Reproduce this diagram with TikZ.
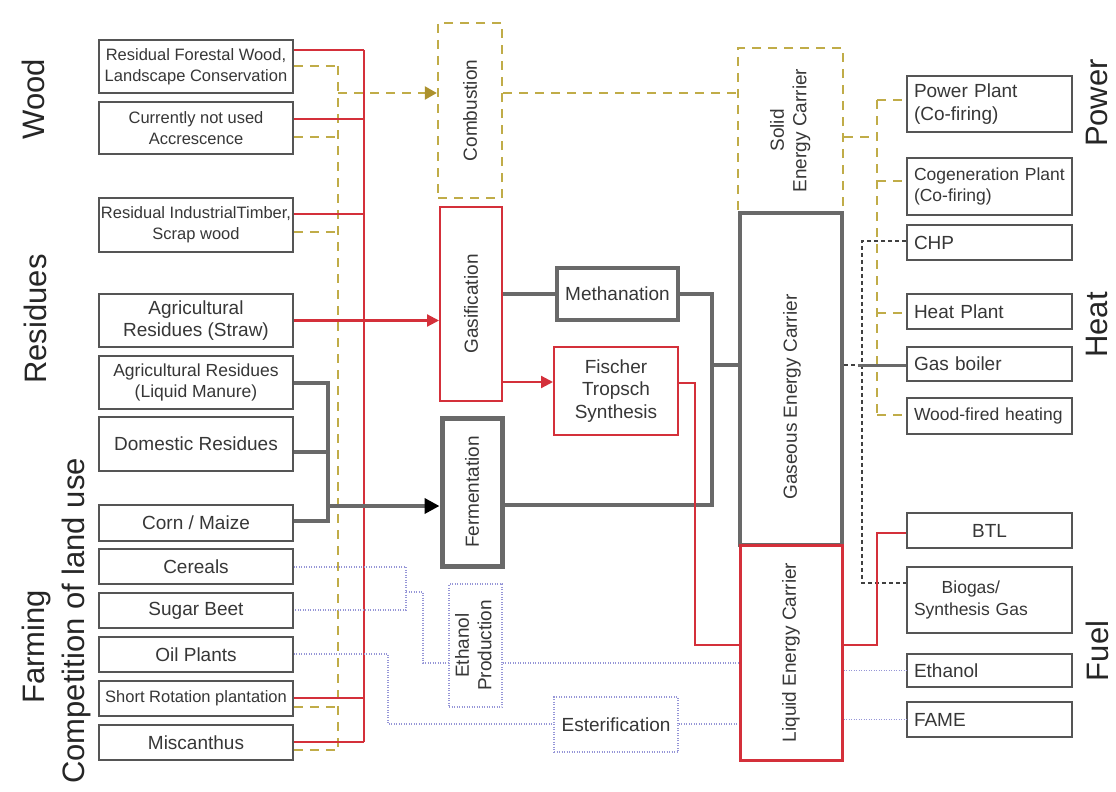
\documentclass[tikz,border=0pt]{standalone}
\usepackage{fontspec}
\setmainfont{Liberation Sans}
\usetikzlibrary{arrows.meta,calc}
\definecolor{rd}{RGB}{212,48,58}
\definecolor{olv}{RGB}{192,172,72}
\definecolor{olvd}{RGB}{172,145,45}
\definecolor{gry}{RGB}{105,105,105}
\definecolor{bx}{RGB}{85,85,85}
\definecolor{blu}{RGB}{150,150,215}
\definecolor{txt}{RGB}{55,55,55}
\begin{document}
\begin{tikzpicture}[x=1pt,y=-1pt,
  fA/.style={font=\fontsize{19}{22.5}\selectfont},
  fB/.style={font=\fontsize{17.5}{21.5}\selectfont},
  fC/.style={font=\fontsize{16.5}{21}\selectfont},
  side/.style={font=\fontsize{31}{36}\selectfont, rotate=90, text=black!85, inner sep=0pt},
  lbox/.style={draw=bx, line width=1.8pt, fill=white, minimum width=194pt, inner sep=1pt, align=center, text=txt},
  rbox/.style={draw=bx, line width=1.8pt, fill=white, text width=151pt, inner xsep=7pt, inner ysep=1pt, align=left, text=txt},
  mbox/.style={fill=white, inner sep=0pt, align=center, text=txt},
  rl/.style={draw=rd, line width=2.2pt},
  ol/.style={draw=olv, line width=2.4pt, dash pattern=on 9pt off 7pt},
  gl/.style={draw=gry, line width=4pt},
  bl/.style={draw=blu, line width=1.5pt, dash pattern=on 1pt off 1.5pt},
  kd/.style={draw=black!75, line width=1.5pt, dash pattern=on 4pt off 3pt},
  redtip/.style={-{Triangle[length=12pt,width=12pt,color=rd]}},
  oltip/.style={-{Triangle[length=12pt,width=13pt,color=olvd]}},
  blktip/.style={-{Triangle[length=15pt,width=15pt,color=black]}},
]
\useasboundingbox[fill=white] (0,0) rectangle (1116,792);

% side labels
\node[side] (lwood) at (33,99) {Wood};
\node[side] (lres) at (35,319) {Residues};
\node[side] (lfarm) at (36,647) {Farming};
\node[side] (lcomp) at (76,621) {Competition of land use};
\node[side] (lpow) at (1097,103) {Power};
\node[side] (lheat) at (1097,325) {Heat};
\node[side] (lfuel) at (1097,651) {Fuel};

% left boxes
\node[lbox, fC, minimum height=53pt] (rfw) at (196,66.5) {Residual Forestal Wood,\\Landscape Conservation};
\node[lbox, fC, minimum height=52pt] (cnu) at (196,128) {Currently not used\\Accrescence};
\node[lbox, fC, minimum height=54pt] (rit) at (196,225) {Residual IndustrialTimber,\\Scrap wood};
\node[lbox, fA, minimum height=53pt] (straw) at (196,320.5) {Agricultural\\Residues (Straw)};
\node[lbox, fB, minimum height=53pt] (manure) at (196,382.5) {Agricultural Residues\\(Liquid Manure)};
\node[lbox, fA, minimum height=54pt] (dom) at (196,444) {Domestic Residues};
\node[lbox, fA, minimum height=36pt] (corn) at (196,523) {Corn / Maize};
\node[lbox, fA, minimum height=35pt] (cereals) at (196,566.5) {Cereals};
\node[lbox, fA, minimum height=35pt] (beet) at (196,610.5) {Sugar Beet};
\node[lbox, fA, minimum height=35pt] (oil) at (196,654.5) {Oil Plants};
\node[lbox, fC, minimum height=35pt] (src) at (196,698.5) {Short Rotation plantation};
\node[lbox, fA, minimum height=35pt] (misc) at (196,742.5) {Miscanthus};

% middle boxes
\node[mbox, fA, draw=olv, line width=2.4pt, dash pattern=on 9pt off 7pt, minimum width=64pt, minimum height=175pt] (comb) at (470,110.5) {\rotatebox{90}{Combustion}};
\node[mbox, fA, draw=rd, line width=2pt, minimum width=62pt, minimum height=194pt] (gas) at (471,304) {\rotatebox{90}{Gasification}};
\node[mbox, fA, draw=gry, line width=5pt, minimum width=60pt, minimum height=148pt] (ferm) at (472,492) {\rotatebox{90}{Fermentation}};
\node[mbox, fA, draw=blu, line width=1.5pt, dash pattern=on 1pt off 1.5pt, minimum width=53pt, minimum height=123pt] (ethp) at (475.5,645.5) {\rotatebox{90}{\begin{tabular}{@{}c@{}}Ethanol\\Production\end{tabular}}};
\node[mbox, fA, draw=gry, line width=4pt, minimum width=121pt, minimum height=52pt] (meth) at (617.5,294) {Methanation};
\node[mbox, fA, draw=rd, line width=2pt, minimum width=124pt, minimum height=88pt] (ft) at (616,391) {Fischer\\Tropsch\\Synthesis};
\node[mbox, fA, draw=blu, line width=1.5pt, dash pattern=on 1pt off 1.5pt, minimum width=124pt, minimum height=55pt] (est) at (616,724.5) {Esterification};

% energy carriers
\node[mbox, fA, draw=olv, line width=2.4pt, dash pattern=on 9pt off 7pt, minimum width=105pt, minimum height=165pt] (solid) at (790.5,130.5) {\rotatebox{90}{\begin{tabular}{@{}c@{}}Solid\\Energy Carrier\end{tabular}}};
\node[mbox, draw=gry, line width=3.5pt, minimum width=102pt, minimum height=332pt] (gasc) at (791,379) {};
\node[fA, rotate=90, text=txt, inner sep=0pt] (gasct) at ($(gasc.center)+(1,18)$) {Gaseous Energy Carrier};
\node[mbox, fA, draw=rd, line width=3pt, minimum width=102pt, minimum height=215pt] (liq) at (791,652.5) {\rotatebox{90}{Liquid Energy Carrier}};

% right boxes
\node[rbox, fA, minimum height=56pt] (pp) at (989.5,104) {Power Plant\\(Co-firing)};
\node[rbox, fB, minimum height=57pt] (cog) at (989.5,186.5) {Cogeneration Plant\\(Co-firing)};
\node[rbox, fA, minimum height=35pt] (chp) at (989.5,242.5) {CHP};
\node[rbox, fA, minimum height=35pt] (hp) at (989.5,311.5) {Heat Plant};
\node[rbox, fA, minimum height=34pt] (gb) at (989.5,364) {Gas boiler};
\node[rbox, fB, minimum height=36pt] (wf) at (989.5,416) {Wood-fired heating};
\node[rbox, fA, minimum height=35pt, align=center] (btl) at (989.5,530.5) {BTL};
\node[rbox, fB, minimum height=66pt] (bio) at (989.5,600) {\begin{tabular}{@{}c@{}}Biogas/\\Synthesis Gas\end{tabular}};
\node[rbox, fA, minimum height=33pt] (eth) at (989.5,670.5) {Ethanol};
\node[rbox, fA, minimum height=35pt] (fame) at (989.5,719.5) {FAME};

% olive bus (left)
\coordinate (o1) at (338,66);
\coordinate (o2) at (338,137);
\coordinate (o3) at (338,232);
\coordinate (o4) at (338,707);
\coordinate (o5) at (338,750);
\coordinate (oc) at (338,93);
\draw[ol] (o1) -- (o5);
\draw[ol] (rfw.east |- o1) -- (o1);
\draw[ol] (cnu.east |- o2) -- (o2);
\draw[ol] (rit.east |- o3) -- (o3);
\draw[ol] (src.east |- o4) -- (o4);
\draw[ol] (misc.east |- o5) -- (o5);
\draw[ol, oltip] (oc) -- (comb.west |- oc);

% red bus (left)
\coordinate (r1) at (364,50);
\coordinate (r2) at (364,119);
\coordinate (r3) at (364,214);
\coordinate (r5) at (364,698);
\coordinate (r6) at (364,742);
\draw[rl] (r1) -- (r6);
\draw[rl] (rfw.east |- r1) -- (r1);
\draw[rl] (cnu.east |- r2) -- (r2);
\draw[rl] (rit.east |- r3) -- (r3);
\draw[rl] (src.east |- r5) -- (r5);
\draw[rl] (misc.east |- r6) -- (r6);
\draw[rl, redtip] (straw.east) -- (gas.west |- straw.east);

% gray collector
\coordinate (g1) at (328,383);
\coordinate (g2) at (328,452);
\coordinate (g3) at (328,521);
\coordinate (g4) at (328,506);
\draw[gl] (manure.east |- g1) -- (g1) -- (g3) -- (corn.east |- g3);
\draw[gl] (dom.east |- g2) -- (g2);
\draw[gl, blktip] (g4) -- (ferm.west |- g4);

% blue dotted (left)
\coordinate (b1) at (406,567);
\coordinate (b2) at (406,610);
\coordinate (b3) at (406,592);
\coordinate (b4) at (423,592);
\coordinate (b5) at (423,663);
\draw[bl] (cereals.east |- b1) -- (b1) -- (b2) -- (beet.east |- b2);
\draw[bl] (b3) -- (b4) -- (b5) -- (ethp.west |- b5);
\draw[bl] (ethp.east |- b5) -- (liq.west |- b5);
\coordinate (c1) at (388,654);
\coordinate (c2) at (388,724);
\draw[bl] (oil.east |- c1) -- (c1) -- (c2) -- (est.west |- c2);
\draw[bl] (est.east |- c2) -- (liq.west |- c2);

% middle connectors
\draw[gl] (gas.east |- meth.west) -- (meth.west);
\coordinate (fa) at (520,382);
\draw[rl, redtip] (gas.east |- fa) -- (ft.west |- fa);
\coordinate (m1) at (712,294);
\coordinate (m2) at (712,505);
\coordinate (m3) at (712,365);
\draw[gl] (meth.east) -- (m1) -- (m2) -- (ferm.east |- m2);
\draw[gl] (m3) -- (gasc.west |- m3);
\coordinate (f1) at (695,383);
\coordinate (f2) at (695,645);
\draw[rl] (ft.east |- f1) -- (f1) -- (f2) -- (liq.west |- f2);
\draw[ol] (comb.east |- oc) -- (solid.west |- oc);

% right side connectors
\coordinate (p0) at (877,137);
\coordinate (p1) at (877,100);
\coordinate (p2) at (877,181);
\coordinate (p3) at (877,313);
\coordinate (p4) at (877,415);
\draw[ol] (solid.east |- p0) -- (p0);
\draw[ol] (p1) -- (p4);
\draw[ol] (p1) -- (pp.west |- p1);
\draw[ol] (p2) -- (cog.west |- p2);
\draw[ol] (p3) -- (hp.west |- p3);
\draw[ol] (p4) -- (wf.west |- p4);

\coordinate (k1) at (862,241);
\coordinate (k2) at (862,583);
\draw[kd] (chp.west |- k1) -- (k1) -- (k2) -- (bio.west |- k2);
\coordinate (gb1) at (858,365);
\draw[kd] (gasc.east |- gb1) -- (gb1);
\draw[gl, line width=3pt] (gb1) -- (gb.west |- gb1);

\coordinate (t1) at (877,645);
\coordinate (t2) at (877,533);
\draw[rl] (liq.east |- t1) -- (t1) -- (t2) -- (btl.west |- t2);
\draw[bl] (liq.east |- eth.west) -- (eth.west);
\draw[bl] (liq.east |- fame.west) -- (fame.west);
\end{tikzpicture}
\end{document}
